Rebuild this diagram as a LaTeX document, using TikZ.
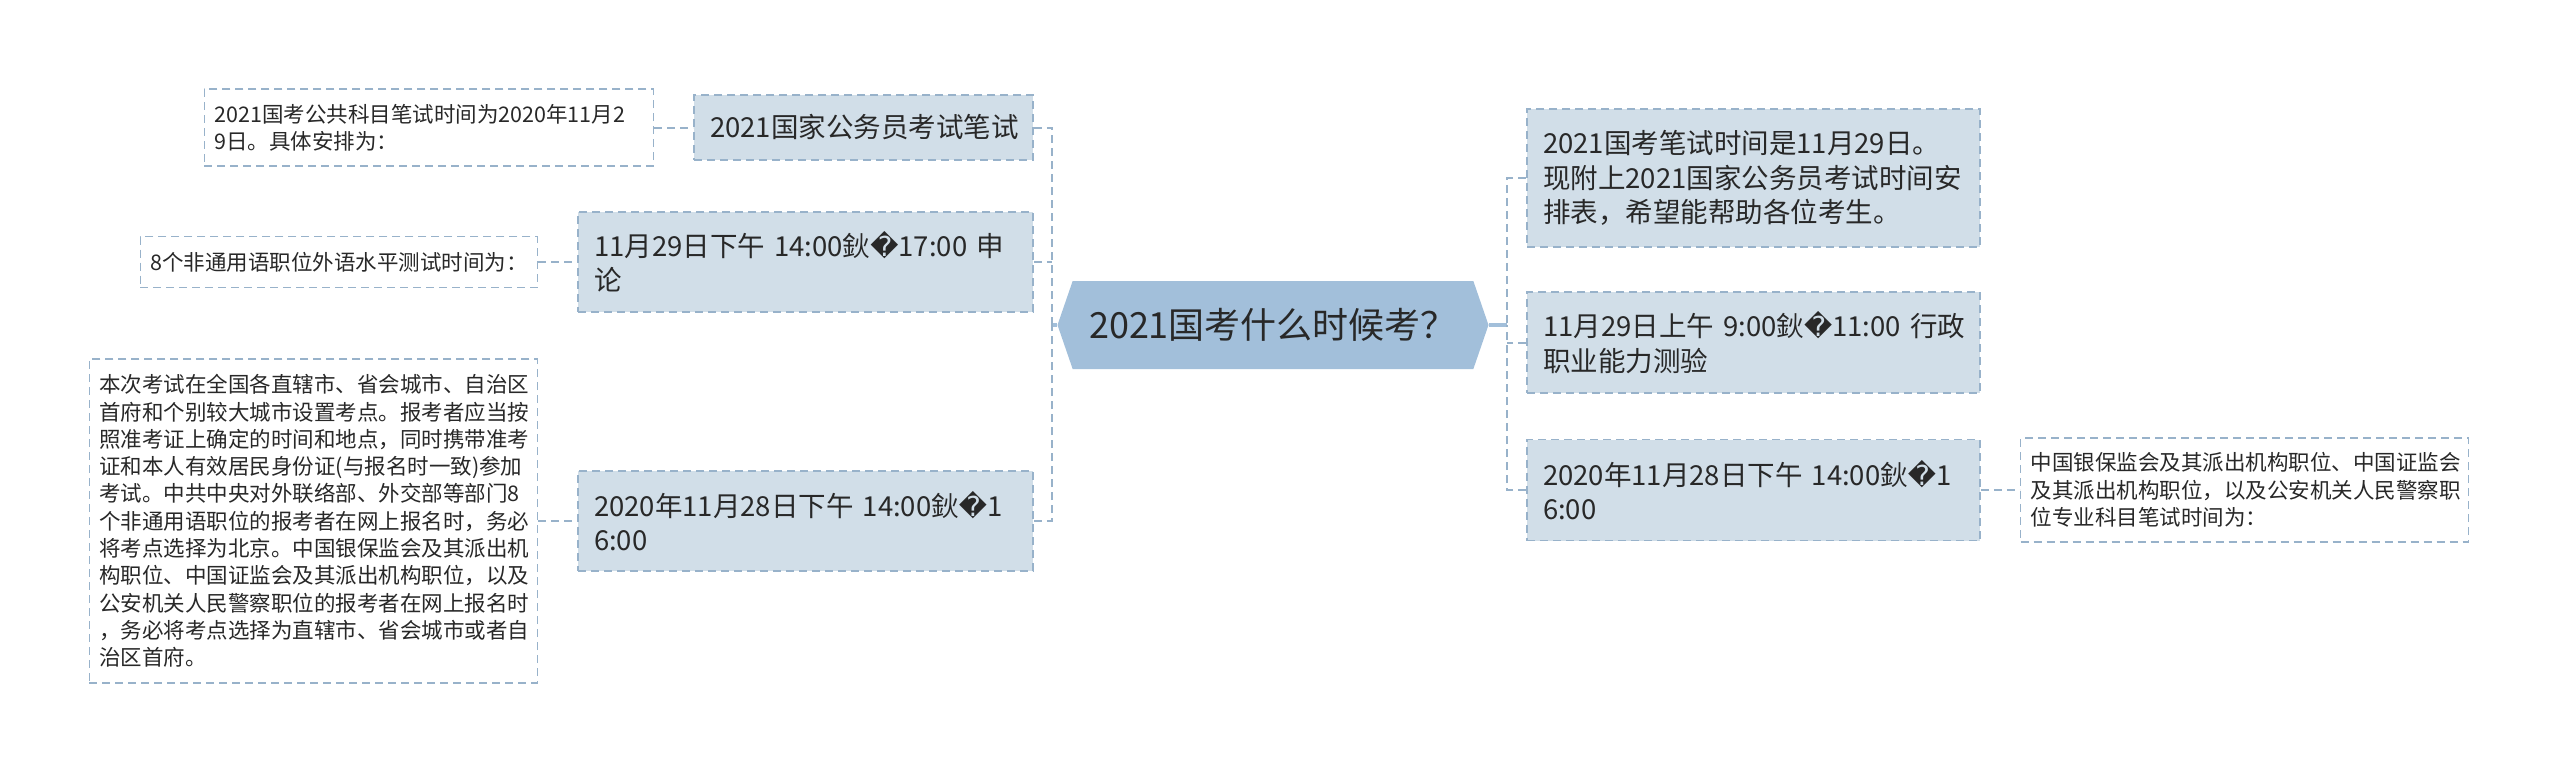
\documentclass[tikz,border=0pt]{standalone}
\usepackage{fontspec}
\setmainfont{Noto Sans CJK SC}
\newfontfamily\repfont{DejaVu Sans}
\usepackage{xcolor}
\usepackage{tikz}
\usetikzlibrary{positioning,shapes.symbols}
\definecolor{rootfill}{RGB}{162,191,218}
\definecolor{topicfill}{RGB}{209,222,232}
\definecolor{edgeline}{RGB}{152,178,202}
\definecolor{inkgray}{RGB}{40,40,40}
\newcommand{\badchar}{{\repfont\char"FFFD}}

\begin{document}
\begin{tikzpicture}[x=1pt, y=-1pt, node distance=39pt,
    root/.style={signal, signal to=west and east, signal pointer angle=142, fill=rootfill, minimum width=431pt, minimum height=88pt, inner sep=0pt, font=\fontsize{36}{42}\selectfont, text=inkgray},
    topic/.style={rectangle, fill=topicfill, draw=edgeline, line width=1.6pt, dash pattern=on 8pt off 5pt, inner xsep=16pt, inner ysep=0pt, align=left, font=\fontsize{27.5}{34.5}\selectfont, text=inkgray},
    note/.style={rectangle, fill=white, draw=edgeline, line width=1.6pt, dash pattern=on 8pt off 5pt, inner xsep=10pt, inner ysep=0pt, align=left, font=\fontsize{21.5}{27.3}\selectfont, text=inkgray},
    link/.style={draw=edgeline, line width=2pt, dash pattern=on 8pt off 5pt},
    stem/.style={draw=rootfill, line width=3.5pt}]

\useasboundingbox (0,0) rectangle (2560,774);

\node[root] (root) at (1273,325) {2021国考什么时候考？};

\node[topic, text width=307pt, minimum height=65pt] (gk) at (863.5,127.5) {2021国家公务员考试笔试};
\node[topic, text width=423pt, minimum height=100pt] (sl) at (805.5,262) {11月29日下午~14:00鈥\badchar17:00~申\\论};
\node[topic, text width=423pt, minimum height=100pt] (zy) at (805.5,521) {2020年11月28日下午~14:00鈥\badchar1\\6:00};

\node[note, text width=429pt, minimum height=77pt, left=of gk] (gknote) {2021国考公共科目笔试时间为2020年11月2\\9日。具体安排为：};
\node[note, text width=377pt, minimum height=51pt, left=of sl] (slnote) {8个非通用语职位外语水平测试时间为：};
\node[note, text width=428pt, minimum height=324pt, left=of zy] (zynote) {本次考试在全国各直辖市、省会城市、自治区\\首府和个别较大城市设置考点。报考者应当按\\照准考证上确定的时间和地点，同时携带准考\\证和本人有效居民身份证(与报名时一致)参加\\考试。中共中央对外联络部、外交部等部门8\\个非通用语职位的报考者在网上报名时，务必\\将考点选择为北京。中国银保监会及其派出机\\构职位、中国证监会及其派出机构职位，以及\\公安机关人民警察职位的报考者在网上报名时\\，务必将考点选择为直辖市、省会城市或者自\\治区首府。};

\node[topic, text width=421pt, minimum height=138pt] (bs) at (1753.5,178) {2021国考笔试时间是11月29日。\\现附上2021国家公务员考试时间安\\排表，希望能帮助各位考生。};
\node[topic, text width=421pt, minimum height=101pt] (xc) at (1753.5,342.5) {11月29日上午~9:00鈥\badchar11:00~行政\\职业能力测验};
\node[topic, text width=421pt, minimum height=101pt] (zk) at (1753.5,490) {2020年11月28日下午~14:00鈥\badchar1\\6:00};
\node[note, text width=428pt, minimum height=104pt, right=of zk] (zknote) {中国银保监会及其派出机构职位、中国证监会\\及其派出机构职位，以及公安机关人民警察职\\位专业科目笔试时间为：};

\coordinate (ljoin) at (1052,325);
\coordinate (rjoin) at (1507,325);

\draw[stem] (root.west) -- (ljoin);
\draw[stem] (root.east) -- (rjoin);
\draw[link] (gk.east) -| (ljoin);
\draw[link] (zy.east) -| (ljoin);
\draw[link] (sl.east) -- (sl.east -| ljoin);
\draw[link] (bs.west) -| (rjoin);
\draw[link] (zk.west) -| (rjoin);
\draw[link] (xc.west) -- (xc.west -| rjoin);
\draw[link] (gknote.east) -- (gk.west);
\draw[link] (slnote.east) -- (sl.west);
\draw[link] (zynote.east) -- (zy.west);
\draw[link] (zk.east) -- (zknote.west);
\end{tikzpicture}
\end{document}
